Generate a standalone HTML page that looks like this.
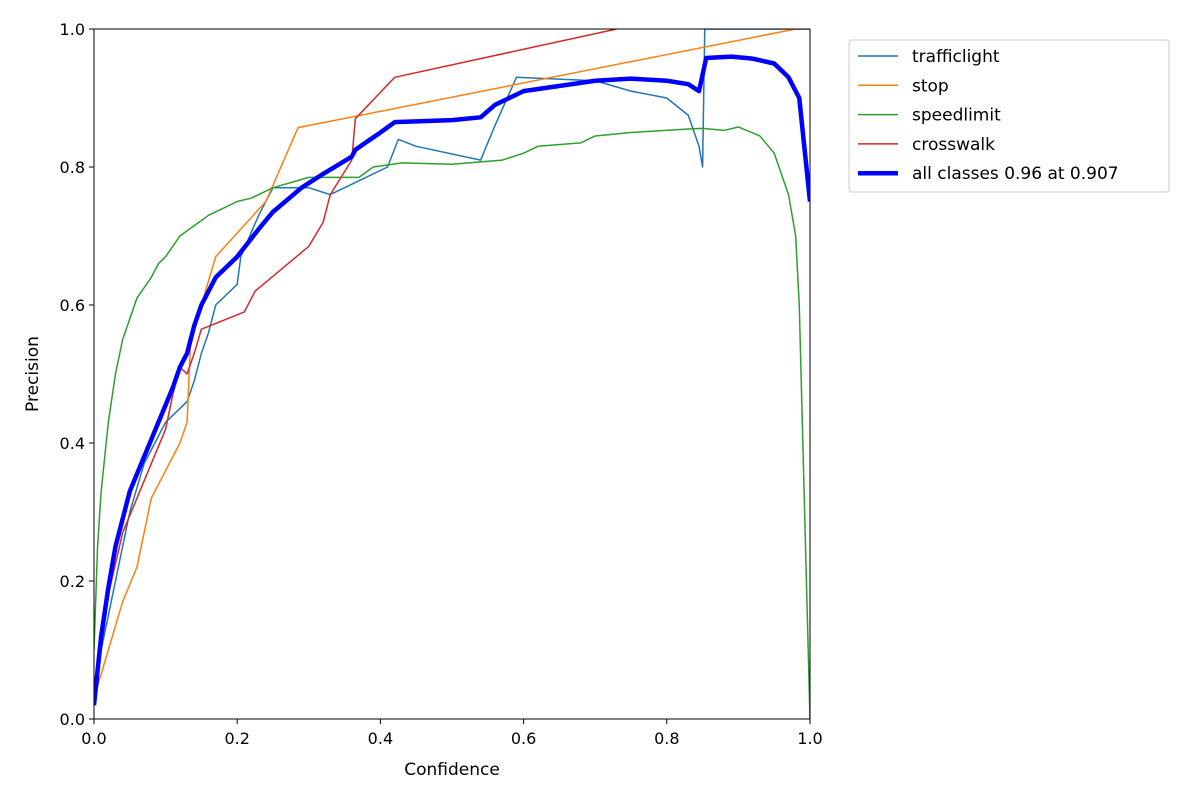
<!DOCTYPE html>
<html><head><meta charset="utf-8"><style>
body{margin:0;background:#fff;}
svg{display:block;font-family:"DejaVu Sans","Liberation Sans",sans-serif;}
</style></head><body>
<svg id="chart" width="1200" height="800">
<rect width="1200" height="800" fill="#fff"/>
<g id="plot"></g>
<g id="axes"></g>
<text x="452" y="775" font-size="17" text-anchor="middle">Confidence</text>
<text x="38" y="374" font-size="17" text-anchor="middle" transform="rotate(-90 38 374)">Precision</text>
<g id="legend"></g>
</svg>
<script>
const seriesNames=["trafficlight","stop","speedlimit","crosswalk","all classes 0.96 at 0.907"];
const trafficX=[0,0.02,0.04,0.05,0.07,0.09,0.1,0.13,0.14,0.15,0.16,0.17,0.2,0.205,0.23,0.25,0.3,0.33,0.41,0.425,0.45,0.54,0.56,0.59,0.7,0.75,0.8,0.83,0.845,0.85,0.853,1.0];
const trafficY=[0.05,0.15,0.25,0.3,0.37,0.41,0.43,0.46,0.49,0.53,0.56,0.6,0.63,0.67,0.73,0.77,0.77,0.76,0.8,0.84,0.83,0.81,0.86,0.93,0.925,0.91,0.9,0.875,0.83,0.8,1.0,1.0];
const stopX=[0,0.02,0.04,0.06,0.07,0.08,0.1,0.12,0.13,0.135,0.15,0.17,0.24,0.285,0.98];
const stopY=[0.03,0.1,0.17,0.22,0.27,0.32,0.36,0.4,0.43,0.55,0.6,0.67,0.75,0.857,1.0];
const speedX=[0,0.005,0.01,0.02,0.03,0.04,0.05,0.06,0.08,0.09,0.1,0.12,0.14,0.16,0.18,0.2,0.22,0.25,0.3,0.37,0.39,0.43,0.5,0.57,0.6,0.62,0.68,0.7,0.75,0.83,0.85,0.88,0.9,0.93,0.95,0.97,0.98,0.985,0.99,0.995,1.0];
const speedY=[0.1,0.25,0.33,0.43,0.5,0.55,0.58,0.61,0.64,0.66,0.67,0.7,0.715,0.73,0.74,0.75,0.755,0.77,0.785,0.785,0.8,0.806,0.804,0.81,0.82,0.83,0.835,0.845,0.85,0.855,0.856,0.853,0.858,0.845,0.82,0.76,0.7,0.6,0.4,0.2,0.0];
const crossX=[0,0.02,0.04,0.06,0.08,0.1,0.11,0.12,0.13,0.14,0.15,0.21,0.225,0.3,0.32,0.33,0.36,0.365,0.42,0.73];
const crossY=[0.02,0.18,0.27,0.32,0.37,0.42,0.47,0.51,0.5,0.53,0.565,0.59,0.62,0.685,0.72,0.76,0.81,0.87,0.93,1.0];
const allX=[0,0.01,0.02,0.03,0.04,0.05,0.07,0.09,0.11,0.12,0.13,0.14,0.15,0.17,0.2,0.23,0.25,0.29,0.32,0.36,0.365,0.4,0.42,0.5,0.54,0.56,0.6,0.7,0.75,0.8,0.83,0.845,0.855,0.89,0.92,0.95,0.97,0.985,0.99,1.0];
const allY=[0.02,0.12,0.19,0.25,0.29,0.33,0.38,0.43,0.48,0.51,0.53,0.57,0.6,0.64,0.67,0.71,0.735,0.77,0.79,0.815,0.825,0.85,0.865,0.868,0.872,0.89,0.91,0.925,0.928,0.925,0.92,0.91,0.958,0.96,0.957,0.95,0.93,0.9,0.85,0.75];
const tickVals=[0,0.2,0.4,0.6,0.8,1.0];
const tickLabels=["0.0","0.2","0.4","0.6","0.8","1.0"];

const X0=94,X1=810,Y0=719,Y1=29;
const sx=v=>X0+v*(X1-X0), sy=v=>Y0-v*(Y0-Y1);
const NS="http://www.w3.org/2000/svg";
const plot=document.getElementById('plot'),axes=document.getElementById('axes'),legend=document.getElementById('legend');
const colors=["#1f77b4","#ff7f0e","#2ca02c","#d62728","#0000ff"];
const widths=[1.5,1.5,1.5,1.5,4.5];
const xs=[trafficX,stopX,speedX,crossX,allX], ys=[trafficY,stopY,speedY,crossY,allY];
const clip=document.createElementNS(NS,'clipPath');clip.setAttribute('id','cp');
const cr=document.createElementNS(NS,'rect');cr.setAttribute('x',X0);cr.setAttribute('y',Y1);cr.setAttribute('width',X1-X0);cr.setAttribute('height',Y0-Y1);
clip.appendChild(cr);plot.appendChild(clip);
xs.forEach((arr,i)=>{
  const p=document.createElementNS(NS,'polyline');
  p.setAttribute('points',arr.map((v,j)=>sx(v)+','+sy(ys[i][j])).join(' '));
  p.setAttribute('fill','none');p.setAttribute('stroke',colors[i]);p.setAttribute('stroke-width',widths[i]);
  p.setAttribute('stroke-linejoin','round');p.setAttribute('clip-path','url(#cp)');
  
  
  plot.appendChild(p);
});
const frame=document.createElementNS(NS,'rect');
frame.setAttribute('x',X0);frame.setAttribute('y',Y1);frame.setAttribute('width',X1-X0);frame.setAttribute('height',Y0-Y1);
frame.setAttribute('fill','none');frame.setAttribute('stroke','#000');frame.setAttribute('stroke-width','1');


axes.appendChild(frame);
tickVals.forEach((v,i)=>{
  const tx=document.createElementNS(NS,'line');
  tx.setAttribute('x1',sx(v));tx.setAttribute('x2',sx(v));tx.setAttribute('y1',Y0);tx.setAttribute('y2',Y0+5);tx.setAttribute('stroke','#000');
  
  
  axes.appendChild(tx);
  const lx=document.createElementNS(NS,'text');
  lx.setAttribute('x',sx(v));lx.setAttribute('y',Y0+25);lx.setAttribute('font-size','16');lx.setAttribute('text-anchor','middle');
  lx.textContent=tickLabels[i];
  
  
  axes.appendChild(lx);
  const ty=document.createElementNS(NS,'line');
  ty.setAttribute('x1',X0-5);ty.setAttribute('x2',X0);ty.setAttribute('y1',sy(v));ty.setAttribute('y2',sy(v));ty.setAttribute('stroke','#000');
  
  
  axes.appendChild(ty);
  const ly=document.createElementNS(NS,'text');
  ly.setAttribute('x',X0-9);ly.setAttribute('y',sy(v)+6);ly.setAttribute('font-size','16');ly.setAttribute('text-anchor','end');
  ly.textContent=tickLabels[i];
  
  
  axes.appendChild(ly);
});
const lb=document.createElementNS(NS,'rect');
lb.setAttribute('x',849);lb.setAttribute('y',40);lb.setAttribute('width',320);lb.setAttribute('height',152);lb.setAttribute('rx',3);
lb.setAttribute('fill','#fff');lb.setAttribute('stroke','#ccc');


legend.appendChild(lb);
seriesNames.forEach((n,i)=>{
  const y=56+i*29.3;
  const l=document.createElementNS(NS,'line');
  l.setAttribute('x1',858);l.setAttribute('x2',898);l.setAttribute('y1',y);l.setAttribute('y2',y);
  l.setAttribute('stroke',colors[i]);l.setAttribute('stroke-width',widths[i]);
  
  
  legend.appendChild(l);
  const t=document.createElementNS(NS,'text');
  t.setAttribute('x',912);t.setAttribute('y',y+6);t.setAttribute('font-size','17');
  t.textContent=n;
  
  
  legend.appendChild(t);
});
</script>
</body></html>
